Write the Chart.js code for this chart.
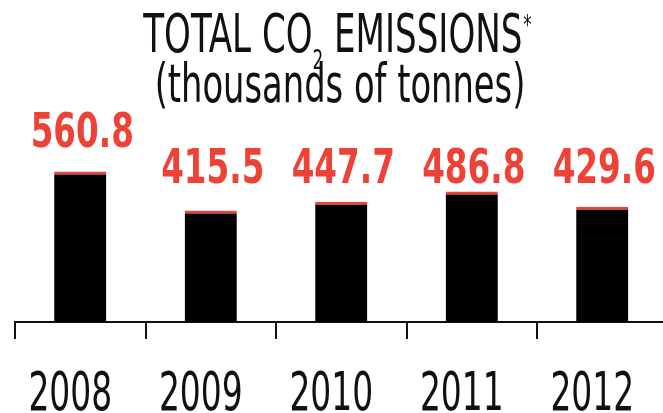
<!DOCTYPE html>
<html>
<head>
<meta charset="utf-8">
<script src="https://cdn.jsdelivr.net/npm/chart.js@4.4.1/dist/chart.umd.min.js"></script>
<style>
  html, body { margin: 0; padding: 0; background: #fff; overflow: hidden; }
  #wrap { position: relative; width: 670px; height: 413px; }
</style>
</head>
<body>
<div id="wrap"><canvas id="co2Chart"></canvas></div>
<script>
const years = ['2008', '2009', '2010', '2011', '2012'];
const emissions = [560.8, 415.5, 447.7, 486.8, 429.6];

const RED = '#ee4236';
const NARROW = '"Liberation Sans Narrow", "DejaVu Sans Condensed", sans-serif';

// draws a string squeezed horizontally, returns its drawn width
function squeezed(ctx, text, x, y, sx) {
  ctx.save();
  ctx.translate(x, y);
  ctx.scale(sx, 1);
  ctx.fillText(text, 0, 0);
  ctx.restore();
  return ctx.measureText(text).width * sx;
}

const textPlugin = {
  id: 'textPlugin',
  afterDatasetsDraw(chart) {
    const ctx = chart.ctx;
    const bars = chart.getDatasetMeta(0).data;
    ctx.save();
    ctx.textBaseline = 'alphabetic';

    // title, line 1 with subscript 2 and a superscript star
    const sx = 0.715;
    ctx.fillStyle = '#111';
    ctx.textAlign = 'left';
    const big = '53px ' + NARROW, small = '26px ' + NARROW;
    ctx.font = big;
    const w1 = ctx.measureText('TOTAL CO').width * sx;
    const w3 = ctx.measureText(' EMISSIONS').width * sx;
    ctx.font = small;
    const w2 = ctx.measureText('2').width * sx;
    const w4 = ctx.measureText('*').width * sx;
    let x = 337 - (w1 + w2 + w3 + w4) / 2;
    ctx.font = big;
    x += squeezed(ctx, 'TOTAL CO', x, 52, sx);
    ctx.font = small;
    x += squeezed(ctx, '2', x, 69, sx);
    ctx.font = big;
    x += squeezed(ctx, ' EMISSIONS', x, 52, sx);
    ctx.font = small;
    squeezed(ctx, '*', x + 1, 34, sx);

    // title, line 2
    ctx.textAlign = 'center';
    ctx.font = '53px ' + NARROW;
    squeezed(ctx, '(thousands of tonnes)', 340, 102, 0.708);

    // value labels above the bars
    ctx.font = 'bold 48px ' + NARROW;
    ctx.fillStyle = RED;
    bars.forEach((bar, i) => {
      const row = 183;
      const y = bar.y - 7 >= row ? row : bar.y - 25;
      squeezed(ctx, emissions[i].toFixed(1), bar.x + 2, y, 0.755);
    });

    // year labels under the axis
    ctx.font = '53px ' + NARROW;
    ctx.fillStyle = '#111';
    bars.forEach((bar, i) => {
      squeezed(ctx, years[i], bar.x - 10, 410, 0.69);
    });
    ctx.restore();
  }
};

new Chart(document.getElementById('co2Chart'), {
  type: 'bar',
  data: {
    labels: years,
    datasets: [{
      data: emissions,
      backgroundColor: '#000',
      borderColor: RED,
      borderWidth: { top: 3, left: 0, right: 0, bottom: 0 },
      borderSkipped: false,
      barPercentage: 0.4,
      categoryPercentage: 1
    }]
  },
  options: {
    responsive: true,
    maintainAspectRatio: false,
    animation: false,
    layout: { padding: { left: 15, right: 2.5, top: 0, bottom: 74 } },
    plugins: { legend: { display: false }, tooltip: { enabled: false }, title: { display: false } },
    scales: {
      x: {
        offset: true,
        grid: {
          offset: true,
          drawOnChartArea: false,
          drawTicks: true,
          tickLength: 17,
          lineWidth: 2,
          color: '#111'
        },
        border: { display: true, width: 2, color: '#111' },
        ticks: { display: false }
      },
      y: {
        display: false,
        min: 0,
        max: 1200
      }
    }
  },
  plugins: [textPlugin]
});
</script>
</body>
</html>
